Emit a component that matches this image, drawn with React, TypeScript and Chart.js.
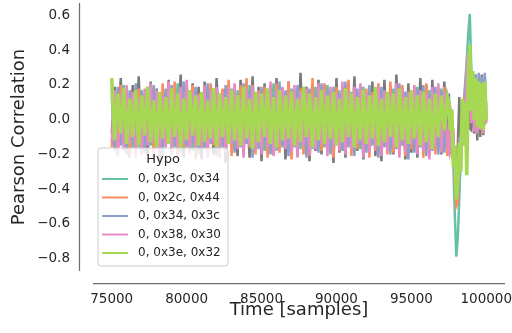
import React, { useEffect, useRef } from "react";
import { Chart, registerables } from "chart.js";

Chart.register(...registerables);

// Sample index (x) grid
const TIME = [
  75000, 75200, 75400, 75600, 75800, 76000, 76200, 76400, 76600, 76800,
  77000, 77200, 77400, 77600, 77800, 78000, 78200, 78400, 78600, 78800,
  79000, 79200, 79400, 79600, 79800, 80000, 80200, 80400, 80600, 80800,
  81000, 81200, 81400, 81600, 81800, 82000, 82200, 82400, 82600, 82800,
  83000, 83200, 83400, 83600, 83800, 84000, 84200, 84400, 84600, 84800,
  85000, 85200, 85400, 85600, 85800, 86000, 86200, 86400, 86600, 86800,
  87000, 87200, 87400, 87600, 87800, 88000, 88200, 88400, 88600, 88800,
  89000, 89200, 89400, 89600, 89800, 90000, 90200, 90400, 90600, 90800,
  91000, 91200, 91400, 91600, 91800, 92000, 92200, 92400, 92600, 92800,
  93000, 93200, 93400, 93600, 93800, 94000, 94200, 94400, 94600, 94800,
  95000, 95200, 95400, 95600, 95800, 96000, 96200, 96400, 96600, 96800,
  97000, 97200, 97400,
  97500, 97600, 97700, 97800, 97900, 98000, 98100, 98200, 98300, 98400,
  98500, 98600, 98700, 98800, 98900, 99000, 99100, 99200, 99300, 99400,
  99500, 99600, 99700, 99800, 99900, 100000,
];

// Other hypotheses (grey, not in legend)
const OTHER_HYPOS = [
  -0.08, 0.19, -0.2, 0.24, -0.1, 0.14, -0.22, 0.2, -0.13, 0.25,
  -0.17, 0.12, -0.21, 0.22, -0.09, 0.18, -0.24, 0.15, -0.12, 0.23,
  -0.19, 0.16, -0.14, 0.26, -0.22, 0.13, -0.18, 0.21, -0.11, 0.19,
  -0.23, 0.22, -0.16, 0.14, -0.2, 0.24, -0.12, 0.17, -0.25, 0.2,
  -0.15, 0.13, -0.21, 0.23, -0.18, 0.16, -0.22, 0.25, -0.13, 0.19,
  -0.24, 0.21, -0.15, 0.14, -0.2, 0.24, -0.17, 0.18, -0.23, 0.22,
  -0.12, 0.15, -0.21, 0.27, -0.16, 0.19, -0.24, 0.13, -0.18, 0.23,
  -0.2, 0.2, -0.13, 0.16, -0.25, 0.24, -0.19, 0.14, -0.22, 0.21,
  -0.15, 0.25, -0.18, 0.18, -0.23, 0.13, -0.16, 0.22, -0.21, 0.17,
  -0.24, 0.23, -0.14, 0.19, -0.2, 0.26, -0.17, 0.15, -0.23, 0.21,
  -0.19, 0.14, -0.22, 0.24, -0.16, 0.2, -0.21, 0.23, -0.14, 0.18,
  -0.2, 0.22, -0.17,
  0.15, -0.1, 0.05, -0.15, -0.2, -0.3, -0.15, 0.13, -0.18, 0.1,
  -0.05, 0.2, 0.25, 0.3, -0.05, -0.06, 0.2, -0.08, 0.26, -0.12,
  0.24, -0.1, 0.26, -0.09, 0.25, 0.0,
];

// 0, 0x3c, 0x34
const HYPO_3C_34 = [
  0.18, -0.14, 0.16, -0.12, 0.2, -0.1, 0.13, -0.16, 0.15, -0.11,
  0.17, -0.13, 0.12, -0.15, 0.19, -0.1, 0.14, -0.17, 0.16, -0.12,
  0.13, -0.16, 0.21, -0.11, 0.15, -0.14, 0.12, -0.18, 0.17, -0.1,
  0.14, -0.15, 0.19, -0.12, 0.16, -0.17, 0.13, -0.11, 0.18, -0.14,
  0.12, -0.16, 0.17, -0.1, 0.15, -0.13, 0.2, -0.15, 0.14, -0.11,
  0.16, -0.18, 0.13, -0.12, 0.21, -0.14, 0.15, -0.16, 0.12, -0.13,
  0.18, -0.11, 0.14, -0.17, 0.16, -0.13, 0.12, -0.15, 0.19, -0.1,
  0.15, -0.16, 0.2, -0.12, 0.13, -0.14, 0.17, -0.18, 0.14, -0.11,
  0.16, -0.13, 0.12, -0.17, 0.19, -0.1, 0.15, -0.15, 0.13, -0.12,
  0.17, -0.14, 0.14, -0.16, 0.18, -0.11, 0.12, -0.13, 0.16, -0.17,
  0.13, -0.12, 0.19, -0.15, 0.15, -0.1, 0.17, -0.14, 0.14, -0.16,
  0.18, -0.11, 0.12,
  0.05, -0.1, -0.12, -0.25, -0.55, -0.79, -0.68, -0.45, -0.2, -0.05,
  0.1, 0.22, 0.35, 0.5, 0.61, 0.3, 0.02, 0.15, 0.04, 0.2,
  -0.02, 0.19, 0.0, 0.18, -0.03, 0.1,
];

// 0, 0x2c, 0x44
const HYPO_2C_44 = [
  -0.16, 0.14, -0.19, 0.2, -0.12, 0.16, -0.21, 0.13, -0.15, 0.18,
  -0.2, 0.15, -0.13, 0.19, -0.22, 0.12, -0.17, 0.21, -0.14, 0.16,
  -0.18, 0.22, -0.21, 0.14, -0.16, 0.18, -0.13, 0.2, -0.23, 0.15,
  -0.14, 0.17, -0.19, 0.21, -0.15, 0.13, -0.22, 0.18, -0.17, 0.23,
  -0.21, 0.16, -0.14, 0.2, -0.18, 0.24, -0.16, 0.14, -0.2, 0.17,
  -0.15, 0.19, -0.22, 0.13, -0.17, 0.21, -0.19, 0.16, -0.14, 0.22,
  -0.23, 0.15, -0.16, 0.18, -0.2, 0.14, -0.21, 0.24, -0.15, 0.17,
  -0.18, 0.21, -0.14, 0.16, -0.22, 0.19, -0.16, 0.13, -0.2, 0.23,
  -0.21, 0.15, -0.17, 0.2, -0.13, 0.18, -0.22, 0.16, -0.18, 0.21,
  -0.16, 0.14, -0.2, 0.22, -0.19, 0.17, -0.14, 0.2, -0.21, 0.15,
  -0.17, 0.19, -0.15, 0.13, -0.22, 0.21, -0.18, 0.16, -0.2, 0.14,
  -0.16, 0.19, -0.21,
  -0.15, 0.05, -0.22, -0.05, -0.35, -0.5, -0.48, -0.15, -0.28, -0.02,
  0.1, 0.05, 0.25, 0.38, 0.2, 0.08, 0.24, -0.02, 0.25, -0.05,
  0.23, -0.03, 0.22, -0.08, 0.2, -0.02,
];

// 0, 0x34, 0x3c
const HYPO_34_3C = [
  0.14, -0.18, 0.19, -0.15, 0.13, -0.2, 0.17, -0.12, 0.21, -0.16,
  0.16, -0.19, 0.13, -0.14, 0.2, -0.17, 0.15, -0.21, 0.18, -0.13,
  0.2, -0.15, 0.14, -0.19, 0.22, -0.16, 0.16, -0.13, 0.19, -0.2,
  0.13, -0.17, 0.21, -0.14, 0.17, -0.21, 0.15, -0.16, 0.2, -0.12,
  0.18, -0.19, 0.13, -0.16, 0.21, -0.14, 0.16, -0.22, 0.15, -0.17,
  0.19, -0.13, 0.16, -0.2, 0.14, -0.18, 0.22, -0.15, 0.17, -0.21,
  0.13, -0.16, 0.2, -0.14, 0.15, -0.22, 0.18, -0.17, 0.14, -0.19,
  0.21, -0.15, 0.16, -0.2, 0.19, -0.13, 0.15, -0.18, 0.22, -0.16,
  0.14, -0.21, 0.18, -0.15, 0.16, -0.19, 0.2, -0.14, 0.17, -0.22,
  0.19, -0.16, 0.15, -0.2, 0.13, -0.17, 0.21, -0.15, 0.16, -0.23,
  0.15, -0.19, 0.18, -0.16, 0.2, -0.21, 0.14, -0.18, 0.19, -0.2,
  0.16, -0.19, 0.15,
  0.12, -0.2, 0.0, -0.25, -0.32, -0.45, -0.28, -0.1, -0.22, 0.04,
  -0.06, 0.18, 0.28, 0.36, 0.22, 0.02, 0.23, -0.04, 0.26, -0.06,
  0.27, -0.05, 0.25, -0.04, 0.27, 0.02,
];

// 0, 0x38, 0x30
const HYPO_38_30 = [
  -0.13, 0.17, -0.21, 0.15, -0.18, 0.2, -0.14, 0.16, -0.22, 0.13,
  -0.19, 0.18, -0.15, 0.21, -0.13, 0.17, -0.2, 0.14, -0.16, 0.22,
  -0.21, 0.15, -0.17, 0.19, -0.14, 0.23, -0.2, 0.16, -0.18, 0.14,
  -0.16, 0.2, -0.22, 0.17, -0.13, 0.19, -0.21, 0.15, -0.19, 0.18,
  -0.14, 0.21, -0.17, 0.13, -0.22, 0.18, -0.15, 0.2, -0.18, 0.16,
  -0.2, 0.14, -0.16, 0.22, -0.21, 0.17, -0.14, 0.19, -0.17, 0.15,
  -0.19, 0.2, -0.22, 0.16, -0.15, 0.18, -0.2, 0.14, -0.17, 0.21,
  -0.14, 0.17, -0.21, 0.19, -0.16, 0.15, -0.18, 0.22, -0.2, 0.16,
  -0.17, 0.19, -0.14, 0.21, -0.22, 0.16, -0.19, 0.14, -0.16, 0.2,
  -0.21, 0.17, -0.18, 0.15, -0.15, 0.21, -0.22, 0.18, -0.19, 0.16,
  -0.14, 0.2, -0.2, 0.17, -0.18, 0.15, -0.23, 0.19, -0.16, 0.21,
  -0.19, 0.16, -0.14,
  -0.18, 0.08, -0.2, -0.08, -0.28, -0.42, -0.35, -0.2, -0.08, -0.15,
  0.12, 0.02, 0.32, 0.39, 0.25, -0.02, 0.18, -0.07, 0.22, -0.08,
  0.2, -0.06, 0.21, -0.07, 0.19, -0.01,
];

// 0, 0x3e, 0x32
const HYPO_3E_32 = [
  0.24, -0.12, 0.15, -0.08, 0.18, -0.14, 0.12, -0.1, 0.17, -0.15,
  0.14, -0.09, 0.19, -0.13, 0.11, -0.16, 0.16, -0.11, 0.13, -0.14,
  0.18, -0.1, 0.15, -0.17, 0.12, -0.12, 0.17, -0.09, 0.14, -0.15,
  0.16, -0.13, 0.11, -0.11, 0.18, -0.16, 0.15, -0.1, 0.13, -0.14,
  0.17, -0.12, 0.14, -0.15, 0.19, -0.11, 0.12, -0.17, 0.16, -0.13,
  0.15, -0.1, 0.18, -0.14, 0.13, -0.16, 0.17, -0.12, 0.14, -0.11,
  0.16, -0.15, 0.12, -0.13, 0.19, -0.1, 0.15, -0.16, 0.13, -0.12,
  0.17, -0.14, 0.14, -0.11, 0.16, -0.15, 0.12, -0.13, 0.18, -0.1,
  0.15, -0.16, 0.13, -0.12, 0.17, -0.14, 0.14, -0.11, 0.19, -0.15,
  0.12, -0.13, 0.16, -0.1, 0.15, -0.16, 0.18, -0.12, 0.13, -0.14,
  0.17, -0.11, 0.14, -0.15, 0.16, -0.13, 0.12, -0.17, 0.15, -0.1,
  0.14, -0.06, 0.13,
  0.1, -0.06, 0.06, -0.27, -0.15, -0.46, -0.35, -0.13, -0.3, 0.12,
  -0.15, 0.1, -0.32, 0.25, 0.43, 0.05, 0.28, 0.0, 0.24, -0.04,
  0.22, -0.05, 0.21, -0.06, 0.22, 0.0,
];

const SERIES_LABELS = ["0, 0x3c, 0x34", "0, 0x2c, 0x44", "0, 0x34, 0x3c", "0, 0x38, 0x30", "0, 0x3e, 0x32"];
const SERIES_VALUES = [HYPO_3C_34, HYPO_2C_44, HYPO_34_3C, HYPO_38_30, HYPO_3E_32];
const SERIES_COLORS = ["#66c2a5", "#fc8d62", "#8da0cb", "#e78ac3", "#a6d854"];
const OTHER_COLOR = "#7a7a7a";

const LEGEND_TITLE = "Hypo";
const X_TITLE = "Time [samples]";
const Y_TITLE = "Pearson Correlation";
const X_TICKS = [75000, 80000, 85000, 90000, 95000, 100000];
const X_TICK_LABELS = ["75000", "80000", "85000", "90000", "95000", "100000"];
const Y_TICKS = [-0.8, -0.6, -0.4, -0.2, 0, 0.2, 0.4, 0.6];
const Y_TICK_LABELS = ["\u22120.8", "\u22120.6", "\u22120.4", "\u22120.2", "0.0", "0.2", "0.4", "0.6"];
const X_RANGE = [73750, 101250];
const Y_RANGE = [-0.873, 0.673];

const FONT = "'DejaVu Sans', sans-serif";
const TEXT_COLOR = "#262626";

const toPoints = (vals: number[]) => TIME.map((t, i) => ({ x: t, y: vals[i] }));

const spinesPlugin = {
  id: "spines",
  afterDraw(chart: any) {
    const { ctx, chartArea } = chart;
    const { left, right, top, bottom } = chartArea;
    ctx.save();
    ctx.strokeStyle = "#6e6e6e";
    ctx.lineWidth = 1.25;
    ctx.beginPath();
    ctx.moveTo(left - 13.5, top);
    ctx.lineTo(left - 13.5, bottom);
    ctx.moveTo(left, bottom + 12.5);
    ctx.lineTo(right, bottom + 12.5);
    ctx.stroke();
    ctx.restore();
  },
};

const legendPlugin = {
  id: "hypoLegend",
  afterDraw(chart: any) {
    const { ctx, chartArea } = chart;
    const x0 = chartArea.left + 5;
    const w = 130;
    const h = 118;
    const y0 = chartArea.bottom - 5 - h;
    ctx.save();
    ctx.beginPath();
    const r = 3;
    ctx.moveTo(x0 + r, y0);
    ctx.lineTo(x0 + w - r, y0);
    ctx.arcTo(x0 + w, y0, x0 + w, y0 + r, r);
    ctx.lineTo(x0 + w, y0 + h - r);
    ctx.arcTo(x0 + w, y0 + h, x0 + w - r, y0 + h, r);
    ctx.lineTo(x0 + r, y0 + h);
    ctx.arcTo(x0, y0 + h, x0, y0 + h - r, r);
    ctx.lineTo(x0, y0 + r);
    ctx.arcTo(x0, y0, x0 + r, y0, r);
    ctx.closePath();
    ctx.fillStyle = "rgba(255,255,255,0.8)";
    ctx.fill();
    ctx.strokeStyle = "#cccccc";
    ctx.lineWidth = 1;
    ctx.stroke();

    ctx.fillStyle = TEXT_COLOR;
    ctx.textBaseline = "middle";
    ctx.textAlign = "center";
    ctx.font = "13px " + FONT;
    ctx.fillText(LEGEND_TITLE, x0 + 65, y0 + 12);

    ctx.textAlign = "left";
    ctx.font = "12px " + FONT;
    SERIES_LABELS.forEach((label, i) => {
      const y = y0 + 31 + i * 18.5;
      ctx.strokeStyle = SERIES_COLORS[i];
      ctx.lineWidth = 2;
      ctx.beginPath();
      ctx.moveTo(x0 + 4, y);
      ctx.lineTo(x0 + 30, y);
      ctx.stroke();
      ctx.fillStyle = TEXT_COLOR;
      ctx.fillText(label, x0 + 40, y);
    });
    ctx.restore();
  },
};

export default function App() {
  const canvasRef = useRef<HTMLCanvasElement | null>(null);

  useEffect(() => {
    const canvas = canvasRef.current;
    if (!canvas) return;

    const datasets: any[] = [
      {
        label: "other",
        data: toPoints(OTHER_HYPOS),
        borderColor: OTHER_COLOR,
        borderWidth: 2.5,
        pointRadius: 0,
        tension: 0,
        order: 10,
      },
      ...SERIES_VALUES.map((vals, i) => ({
        label: SERIES_LABELS[i],
        data: toPoints(vals),
        borderColor: SERIES_COLORS[i],
        borderWidth: i === 4 ? 3.6 : 2.5,
        pointRadius: 0,
        tension: 0,
        order: 9 - i,
      })),
    ];

    const chart = new Chart(canvas, {
      type: "line",
      data: { datasets },
      options: {
        animation: false,
        responsive: false,
        events: [],
        layout: { padding: { left: 0, right: 7, top: 3, bottom: 0 } },
        plugins: { legend: { display: false }, tooltip: { enabled: false } },
        scales: {
          x: {
            type: "linear",
            min: X_RANGE[0],
            max: X_RANGE[1],
            afterBuildTicks: (s: any) => {
              s.ticks = X_TICKS.map((v) => ({ value: v }));
            },
            afterFit: (s: any) => {
              s.height = 62;
              s.paddingLeft = 0;
              s.paddingRight = 0;
            },
            grid: { display: false, drawTicks: false },
            border: { display: false },
            ticks: {
              autoSkip: false,
              maxRotation: 0,
              padding: 20,
              color: TEXT_COLOR,
              font: { family: FONT, size: 13.5 },
              callback: (v: any) => {
                const idx = X_TICKS.indexOf(Number(v));
                return idx >= 0 ? X_TICK_LABELS[idx] : "";
              },
            },
            title: {
              display: true,
              text: X_TITLE,
              color: TEXT_COLOR,
              font: { family: FONT, size: 18 },
              padding: { top: 0, bottom: 12 },
            },
          },
          y: {
            type: "linear",
            min: Y_RANGE[0],
            max: Y_RANGE[1],
            afterBuildTicks: (s: any) => {
              s.ticks = Y_TICKS.map((v) => ({ value: v }));
            },
            afterFit: (s: any) => {
              s.width = 93;
              s.paddingTop = 0;
              s.paddingBottom = 0;
            },
            grid: { display: false, drawTicks: false },
            border: { display: false },
            ticks: {
              autoSkip: false,
              padding: 23,
              color: TEXT_COLOR,
              font: { family: FONT, size: 13.5 },
              callback: (v: any) => {
                const idx = Y_TICKS.findIndex((t) => Math.abs(t - Number(v)) < 1e-9);
                return idx >= 0 ? Y_TICK_LABELS[idx] : "";
              },
            },
            title: {
              display: true,
              text: Y_TITLE,
              color: TEXT_COLOR,
              font: { family: FONT, size: 18 },
              padding: { top: 9, bottom: 0 },
            },
          },
        },
      },
      plugins: [spinesPlugin, legendPlugin],
    });

    return () => chart.destroy();
  }, []);

  return (
    <div style={{ position: "fixed", left: 0, top: 0, width: 512, height: 333, background: "#ffffff" }}>
      <canvas ref={canvasRef} width={512} height={333} style={{ display: "block" }} />
    </div>
  );
}
